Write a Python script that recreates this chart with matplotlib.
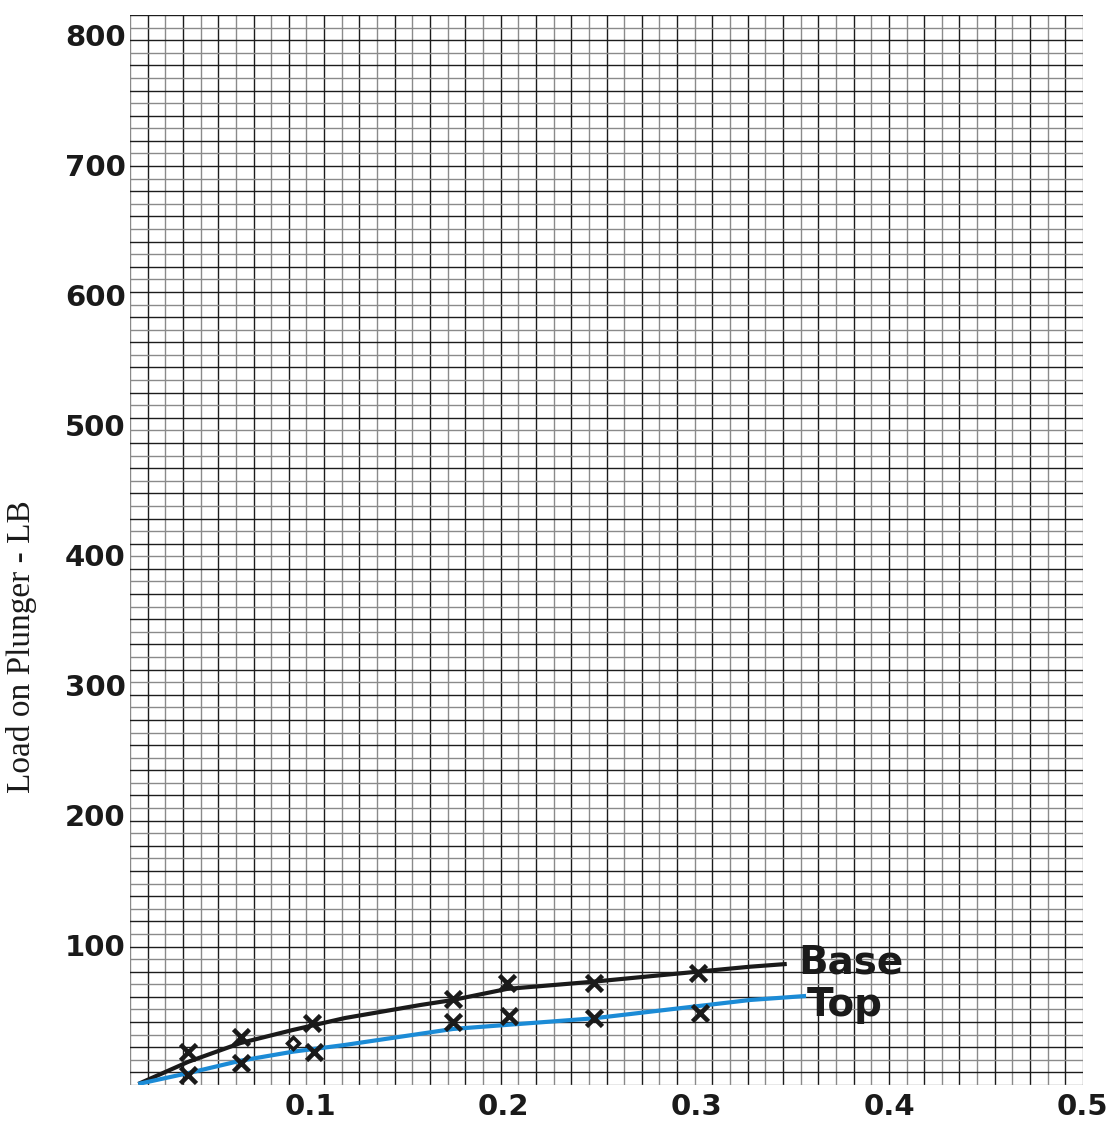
import matplotlib
matplotlib.use("Agg")
from matplotlib import pyplot as plt
import numpy as np

# measured points (deflection, load)
base_x = [0.037, 0.064, 0.101, 0.174, 0.202, 0.247, 0.301]
base_y = [17.9, 29.0, 39.8, 58.2, 70.5, 70.5, 78.7]
top_x = [0.037, 0.064, 0.102, 0.174, 0.203, 0.247, 0.302]
top_y = [0.0, 9.5, 17.9, 41.0, 45.4, 43.6, 47.5]
odd_x = [0.091]
odd_y = [24.4]

# hand-faired curves through the points
base_curve_x = [0.011, 0.037, 0.064, 0.091, 0.118, 0.157, 0.174, 0.202, 0.247, 0.301, 0.328, 0.347]
base_curve_y = [-6.9, 10.2, 24.6, 34.6, 43.8, 53.8, 57.7, 66.2, 71.8, 79.5, 83.3, 85.4]
top_curve_x = [0.011, 0.037, 0.064, 0.091, 0.118, 0.174, 0.247, 0.328, 0.357]
top_curve_y = [-6.9, 1.5, 11.0, 17.9, 23.1, 35.4, 43.6, 57.7, 60.8]

xticks = [0.1, 0.2, 0.3, 0.4, 0.5]
yticks = [100, 200, 300, 400, 500, 600, 700, 800]

x0, x1 = 0.0067, 0.5005
y0, y1 = -7.7, 815.4

fig = plt.figure(figsize=(11.15, 11.26), dpi=100)
ax = fig.add_axes([130 / 1115, 41 / 1126, 953 / 1115, 1070 / 1126])
ax.set_xlim(x0, x1)
ax.set_ylim(y0, y1)

# graph paper
for i, gx in enumerate(np.linspace(x0, x1, 55)):
    ax.axvline(gx, color="#1c1c1c" if i % 2 else "#8a8a8a", lw=1.0, zorder=1)
for i, gy in enumerate(np.linspace(y0, y1, 86)):
    ax.axhline(gy, color="#1c1c1c" if i % 2 else "#8a8a8a", lw=1.0, zorder=1)
for s in ax.spines.values():
    s.set_visible(False)

ax.plot(base_curve_x, base_curve_y, color="#1a1a1a", lw=3.0, solid_capstyle="butt", zorder=3)
ax.plot(top_curve_x, top_curve_y, color="#1b8bd6", lw=3.0, solid_capstyle="butt", zorder=3)
ax.plot(base_x, base_y, "x", color="#1a1a1a", ms=11, mew=3.3, zorder=4)
ax.plot(top_x, top_y, "x", color="#1a1a1a", ms=11, mew=3.3, zorder=4)
ax.plot(odd_x, odd_y, "D", mfc="none", mec="#1a1a1a", ms=6, mew=2.5, zorder=4)

ax.text(0.3528, 86.9, "Base", fontsize=28, fontweight="heavy", color="#1a1a1a",
        ha="left", va="center", zorder=5)
ax.text(0.3575, 53.5, "Top", fontsize=28, fontweight="heavy", color="#1a1a1a",
        ha="left", va="center", zorder=5)

ax.set_xticks(xticks)
ax.set_xticklabels([f"{t:.1f}" for t in xticks])
ax.set_yticks(yticks)
ax.set_yticklabels([str(t) for t in yticks])
ax.tick_params(length=0, labelsize=21, labelcolor="#1a1a1a")
ax.tick_params(axis="x", pad=6)
ax.tick_params(axis="y", pad=3)
for lab in ax.get_xticklabels() + ax.get_yticklabels():
    lab.set_fontweight("heavy")

fig.text(22 / 1115, 1 - 647 / 1126, "Load on Plunger - LB", rotation=90,
         family="Liberation Serif", fontsize=24, color="#1a1a1a",
         ha="center", va="center")

plt.savefig("out.png", dpi=100)
